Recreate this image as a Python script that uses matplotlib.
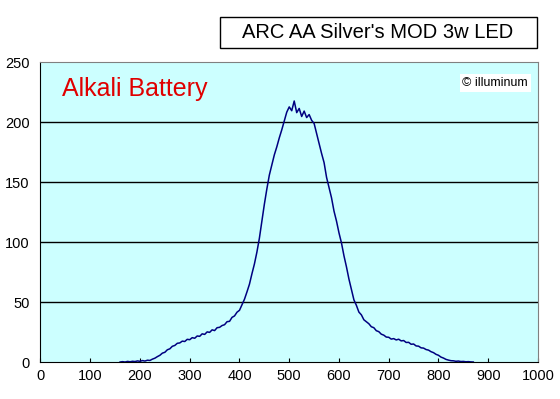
import numpy as np
import matplotlib.pyplot as plt
from matplotlib.patches import Rectangle

# wavelength (nm) and relative intensity
wavelength = np.arange(160, 875, 5)
intensity = [
    0, 0.3, 0, 0.5, 0.2, 0.6, 0.4, 0.9, 0.6, 1.2,
    0.8, 1.5, 1.3, 2.4, 3.2, 4.5, 5.6, 7.4, 8.1, 10.2,
    11.0, 13.1, 13.8, 15.6, 15.9, 17.4, 17.1, 18.9, 18.6, 20.3,
    19.8, 21.7, 21.4, 23.5, 23.0, 25.1, 24.7, 26.8, 26.2, 28.6,
    28.9, 30.4, 31.1, 33.6, 33.9, 37.2, 38.4, 41.5, 43.1, 47.6,
    52.3, 58.4, 64.8, 73.5, 81.7, 91.6, 103.2, 117.4, 131.5, 144.2,
    155.8, 164.1, 172.6, 179.3, 186.8, 193.5, 200.9, 208.2, 212.6, 209.4,
    217.5, 207.8, 211.3, 204.6, 209.1, 203.7, 206.2, 201.4, 198.8, 190.6,
    182.1, 173.8, 166.2, 153.9, 145.3, 136.8, 125.7, 117.4, 107.6, 99.2,
    88.5, 79.3, 69.1, 60.4, 51.8, 47.2, 41.6, 39.3, 35.2, 33.6,
    31.9, 29.4, 28.6, 26.1, 25.3, 23.2, 22.4, 20.8, 20.6, 19.1,
    19.5, 18.4, 19.0, 17.6, 17.9, 16.3, 16.4, 14.8, 15.0, 13.4,
    13.2, 11.8, 11.6, 10.4, 9.9, 8.6, 7.8, 6.4, 5.6, 4.1,
    3.3, 2.2, 1.6, 1.1, 1.0, 0.6, 0.8, 0.4, 0.5, 0.2,
    0.3, 0.1, 0,
]
x_ticks = list(range(0, 1001, 100))
y_ticks = [0, 50, 100, 150, 200, 250]

title = "ARC AA Silver's MOD 3w LED"
label = "Alkali Battery"
credit = "\u00a9 illuminum"

plt.rcParams["font.family"] = ["Liberation Sans", "DejaVu Sans"]

fig = plt.figure(figsize=(5.6, 3.99), dpi=100)
ax = fig.add_axes([0.0723, 0.0927, 0.8884, 0.7519])
ax.set_facecolor("#ccffff")

for yv in y_ticks[1:-1]:
    ax.axhline(yv, color="black", linewidth=1.0, zorder=1)

ax.plot(wavelength, intensity[:len(wavelength)], color="#000080", linewidth=1.1, zorder=2)

ax.set_xlim(0, 1000)
ax.set_ylim(0, 250)
ax.set_xticks(x_ticks)
ax.set_yticks(y_ticks)
ax.tick_params(axis="x", direction="in", length=3, pad=5, labelsize=10.5)
ax.tick_params(axis="y", length=0, pad=8, labelsize=10.5)

ax.spines["left"].set_color("black")
ax.spines["bottom"].set_color("black")
ax.spines["top"].set_color("#808080")
ax.spines["right"].set_color("#808080")

ax.text(0.043, 0.91, label, transform=ax.transAxes, color="#e00000",
        fontsize=18, va="center", ha="left")
ax.text(0.98, 0.93, credit, transform=ax.transAxes, color="black",
        fontsize=9, va="center", ha="right",
        bbox=dict(facecolor="white", edgecolor="none", pad=2))

# title box
fig.patches.append(Rectangle((220 / 560, 1 - 48 / 399), 317 / 560, 31 / 399,
                             transform=fig.transFigure, facecolor="white",
                             edgecolor="black", linewidth=1.0))
fig.text(378 / 560, 1 - 33 / 399, title, ha="center", va="center", fontsize=14.5)

fig.savefig("out.png", dpi=100)
